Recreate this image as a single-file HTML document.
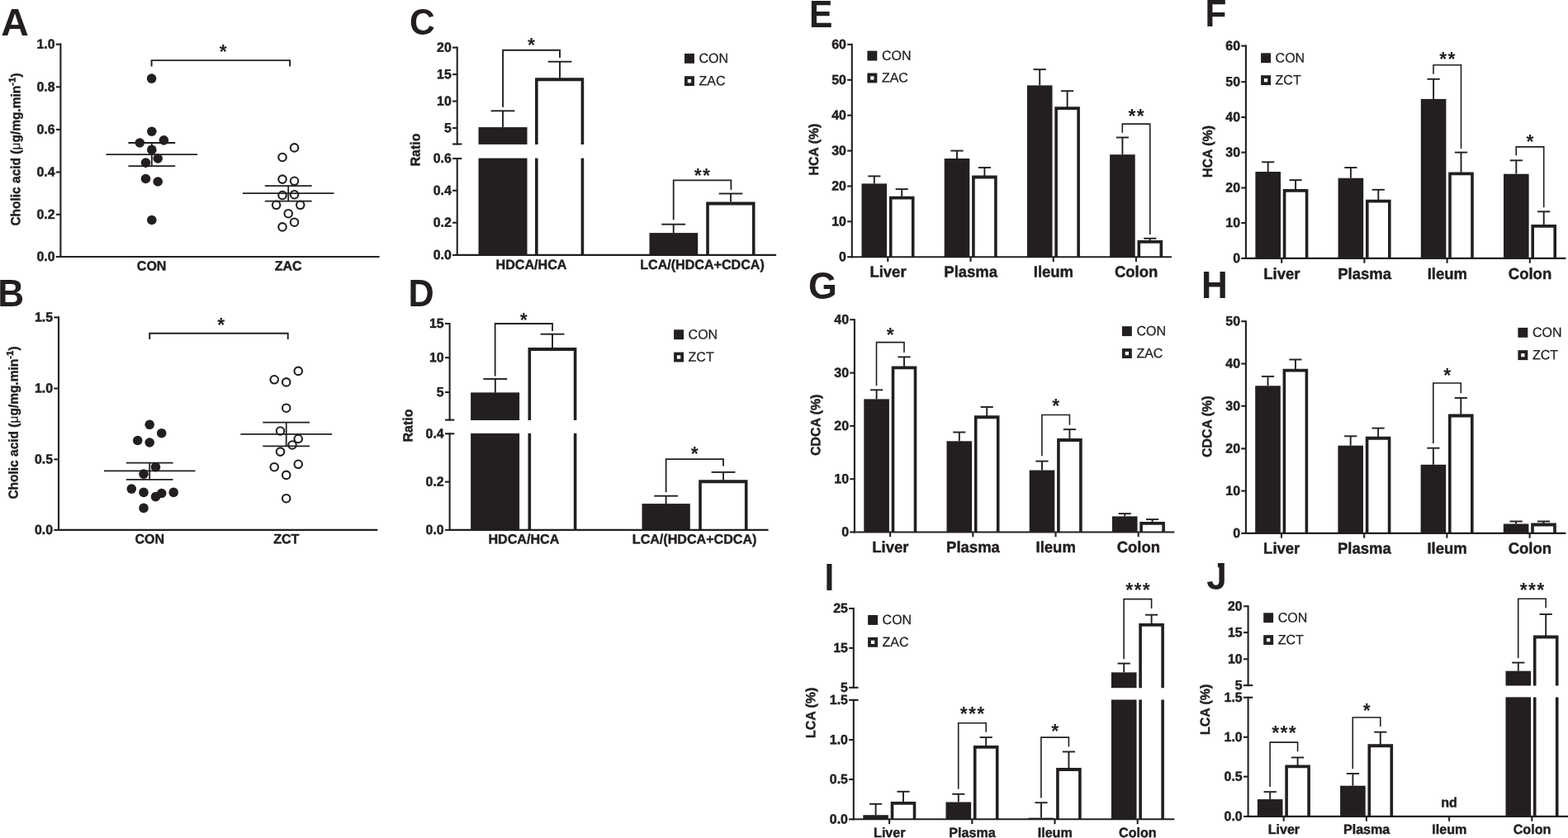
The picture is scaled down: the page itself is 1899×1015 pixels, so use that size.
<!DOCTYPE html>
<html lang="en">
<head>
<meta charset="utf-8">
<title>Bile acid composition: cholic acid, HDCA/HCA and LCA ratios, HCA, CDCA and LCA by tissue</title>
<style>
html,body{margin:0;padding:0;background:#fff;}
body{width:1899px;height:1015px;overflow:hidden;}
svg{display:block;}
svg text{font-family:'Liberation Sans', sans-serif;fill:#231f20;stroke:none;}
svg text.b{font-weight:bold;stroke:#231f20;stroke-width:0.45px;stroke-linejoin:round;}
svg text.s{font-weight:bold;}
svg text.L{font-weight:bold;}
svg text.r{stroke:#231f20;stroke-width:0.25px;}
svg text.b tspan.n{font-weight:normal;stroke-width:0.2px;}
</style>
</head>
<body>
<svg width="1899" height="1015" viewBox="0 0 1899 1015" stroke="#231f20" fill="#231f20" font-family='Liberation Sans, sans-serif'>
<rect x="0" y="0" width="1899" height="1015" fill="#fff" stroke="none"/>
<g id="panelA">
<text transform="translate(1.24 42.5) scale(1.0569 1.0538)" font-size="44" class="L">A</text>
<line x1="73.4" y1="52.55" x2="73.4" y2="312.05" stroke-width="2.1"/>
<line x1="67.75" y1="53.7" x2="73.4" y2="53.7" stroke-width="2.1"/>
<text transform="translate(66.5 58.8) rotate(0.03) scale(1 1.02)" font-size="15.9" class="b" text-anchor="end">1.0</text>
<line x1="67.75" y1="105.3" x2="73.4" y2="105.3" stroke-width="2.1"/>
<text transform="translate(66.5 110.4) rotate(0.03) scale(1 1.02)" font-size="15.9" class="b" text-anchor="end">0.8</text>
<line x1="67.75" y1="156.9" x2="73.4" y2="156.9" stroke-width="2.1"/>
<text transform="translate(66.5 162) rotate(0.03) scale(1 1.02)" font-size="15.9" class="b" text-anchor="end">0.6</text>
<line x1="67.75" y1="208.5" x2="73.4" y2="208.5" stroke-width="2.1"/>
<text transform="translate(66.5 213.6) rotate(0.03) scale(1 1.02)" font-size="15.9" class="b" text-anchor="end">0.4</text>
<line x1="67.75" y1="259.8" x2="73.4" y2="259.8" stroke-width="2.1"/>
<text transform="translate(66.5 264.9) rotate(0.03) scale(1 1.02)" font-size="15.9" class="b" text-anchor="end">0.2</text>
<line x1="67.75" y1="311" x2="73.4" y2="311" stroke-width="2.1"/>
<text transform="translate(66.5 316.1) rotate(0.03) scale(1 1.02)" font-size="15.9" class="b" text-anchor="end">0.0</text>
<line x1="72.35" y1="311" x2="459.6" y2="311" stroke-width="2.1"/>
<text transform="translate(183.6 327.6) rotate(0.03) scale(1 1.02)" font-size="16" class="b" text-anchor="middle">CON</text>
<text transform="translate(349.1 327.6) rotate(0.03) scale(1 1.02)" font-size="16" class="b" text-anchor="middle">ZAC</text>
<text transform="translate(24.36 181) rotate(-89.97) scale(1 1.02)" font-size="15.5" class="b" text-anchor="middle">Cholic acid (<tspan class="n">μ</tspan>g/mg.min<tspan font-size="11.5" dy="-5.5">-1</tspan><tspan dy="5.5">)</tspan></text>
<circle cx="183.6" cy="95.1" r="5.8" fill="#231f20" stroke="none"/>
<circle cx="183.8" cy="159.2" r="5.8" fill="#231f20" stroke="none"/>
<circle cx="169.3" cy="173" r="5.8" fill="#231f20" stroke="none"/>
<circle cx="198.4" cy="169.9" r="5.8" fill="#231f20" stroke="none"/>
<circle cx="183.8" cy="181.4" r="5.8" fill="#231f20" stroke="none"/>
<circle cx="191.2" cy="192" r="5.8" fill="#231f20" stroke="none"/>
<circle cx="176.5" cy="197.1" r="5.8" fill="#231f20" stroke="none"/>
<circle cx="176.5" cy="216.5" r="5.8" fill="#231f20" stroke="none"/>
<circle cx="191.2" cy="220" r="5.8" fill="#231f20" stroke="none"/>
<circle cx="183.8" cy="266.5" r="5.8" fill="#231f20" stroke="none"/>
<circle cx="356.5" cy="178.9" r="4.75" fill="#fff" stroke-width="2.1"/>
<circle cx="342" cy="190.5" r="4.75" fill="#fff" stroke-width="2.1"/>
<circle cx="342" cy="217.1" r="4.75" fill="#fff" stroke-width="2.1"/>
<circle cx="356.5" cy="219.3" r="4.75" fill="#fff" stroke-width="2.1"/>
<circle cx="342" cy="236.5" r="4.75" fill="#fff" stroke-width="2.1"/>
<circle cx="356.5" cy="235.7" r="4.75" fill="#fff" stroke-width="2.1"/>
<circle cx="334.6" cy="248.3" r="4.75" fill="#fff" stroke-width="2.1"/>
<circle cx="363.7" cy="248.3" r="4.75" fill="#fff" stroke-width="2.1"/>
<circle cx="349.2" cy="258.7" r="4.75" fill="#fff" stroke-width="2.1"/>
<circle cx="356.5" cy="269.2" r="4.75" fill="#fff" stroke-width="2.1"/>
<circle cx="342" cy="274.9" r="4.75" fill="#fff" stroke-width="2.1"/>
<line x1="128.5" y1="187.1" x2="239.1" y2="187.1" stroke-width="1.8"/>
<line x1="155.4" y1="173" x2="212.2" y2="173" stroke-width="1.8"/>
<line x1="155.4" y1="201.1" x2="212.2" y2="201.1" stroke-width="1.8"/>
<line x1="183.8" y1="173" x2="183.8" y2="201.1" stroke-width="1.8"/>
<line x1="293.9" y1="234.1" x2="404.5" y2="234.1" stroke-width="1.8"/>
<line x1="320.8" y1="225.2" x2="377.6" y2="225.2" stroke-width="1.8"/>
<line x1="320.8" y1="243.6" x2="377.6" y2="243.6" stroke-width="1.8"/>
<line x1="349.2" y1="225.2" x2="349.2" y2="243.6" stroke-width="1.8"/>
<polyline fill="none" stroke-width="1.9" points="183.6,80.4 183.6,73.1 351.1,73.1 351.1,80.4"/>
<text transform="translate(270.85 71.21) scale(1 1.02)" font-size="23" letter-spacing="1.3" class="s" text-anchor="middle">*</text>
</g>
<g id="panelB">
<text transform="translate(-2.65 370.8) scale(1.0024 1.0439)" font-size="44" class="L">B</text>
<line x1="71" y1="383.25" x2="71" y2="642.95" stroke-width="2.1"/>
<line x1="65.35" y1="384.4" x2="71" y2="384.4" stroke-width="2.1"/>
<text transform="translate(64.1 389.5) rotate(0.03) scale(1 1.02)" font-size="15.9" class="b" text-anchor="end">1.5</text>
<line x1="65.35" y1="470.5" x2="71" y2="470.5" stroke-width="2.1"/>
<text transform="translate(64.1 475.6) rotate(0.03) scale(1 1.02)" font-size="15.9" class="b" text-anchor="end">1.0</text>
<line x1="65.35" y1="556.4" x2="71" y2="556.4" stroke-width="2.1"/>
<text transform="translate(64.1 561.5) rotate(0.03) scale(1 1.02)" font-size="15.9" class="b" text-anchor="end">0.5</text>
<line x1="65.35" y1="641.9" x2="71" y2="641.9" stroke-width="2.1"/>
<text transform="translate(64.1 647) rotate(0.03) scale(1 1.02)" font-size="15.9" class="b" text-anchor="end">0.0</text>
<line x1="69.95" y1="641.9" x2="457.3" y2="641.9" stroke-width="2.1"/>
<text transform="translate(181.2 658.3) rotate(0.03) scale(1 1.02)" font-size="16" class="b" text-anchor="middle">CON</text>
<text transform="translate(346.7 658.3) rotate(0.03) scale(1 1.02)" font-size="16" class="b" text-anchor="middle">ZCT</text>
<text transform="translate(21.66 512) rotate(-89.97) scale(1 1.02)" font-size="15.5" class="b" text-anchor="middle">Cholic acid (<tspan class="n">μ</tspan>g/mg.min<tspan font-size="11.5" dy="-5.5">-1</tspan><tspan dy="5.5">)</tspan></text>
<circle cx="181.2" cy="514.3" r="5.8" fill="#231f20" stroke="none"/>
<circle cx="195.7" cy="524.7" r="5.8" fill="#231f20" stroke="none"/>
<circle cx="166.7" cy="533.5" r="5.8" fill="#231f20" stroke="none"/>
<circle cx="181.2" cy="536" r="5.8" fill="#231f20" stroke="none"/>
<circle cx="188.5" cy="565.7" r="5.8" fill="#231f20" stroke="none"/>
<circle cx="174" cy="574.1" r="5.8" fill="#231f20" stroke="none"/>
<circle cx="159.3" cy="592.1" r="5.8" fill="#231f20" stroke="none"/>
<circle cx="174" cy="596.4" r="5.8" fill="#231f20" stroke="none"/>
<circle cx="195.7" cy="597.5" r="5.8" fill="#231f20" stroke="none"/>
<circle cx="210.2" cy="596.4" r="5.8" fill="#231f20" stroke="none"/>
<circle cx="188.5" cy="601.6" r="5.8" fill="#231f20" stroke="none"/>
<circle cx="174" cy="615.4" r="5.8" fill="#231f20" stroke="none"/>
<circle cx="361.2" cy="449.4" r="4.75" fill="#fff" stroke-width="2.1"/>
<circle cx="332.2" cy="459.8" r="4.75" fill="#fff" stroke-width="2.1"/>
<circle cx="346.7" cy="462.9" r="4.75" fill="#fff" stroke-width="2.1"/>
<circle cx="346.7" cy="494.2" r="4.75" fill="#fff" stroke-width="2.1"/>
<circle cx="339.5" cy="522" r="4.75" fill="#fff" stroke-width="2.1"/>
<circle cx="361.2" cy="531.5" r="4.75" fill="#fff" stroke-width="2.1"/>
<circle cx="354" cy="539" r="4.75" fill="#fff" stroke-width="2.1"/>
<circle cx="339.5" cy="547.1" r="4.75" fill="#fff" stroke-width="2.1"/>
<circle cx="361.2" cy="562.3" r="4.75" fill="#fff" stroke-width="2.1"/>
<circle cx="332.2" cy="565.7" r="4.75" fill="#fff" stroke-width="2.1"/>
<circle cx="346.7" cy="575.4" r="4.75" fill="#fff" stroke-width="2.1"/>
<circle cx="346.7" cy="603.7" r="4.75" fill="#fff" stroke-width="2.1"/>
<line x1="125.9" y1="570.4" x2="236.5" y2="570.4" stroke-width="1.8"/>
<line x1="152.8" y1="560.6" x2="209.6" y2="560.6" stroke-width="1.8"/>
<line x1="152.8" y1="580.8" x2="209.6" y2="580.8" stroke-width="1.8"/>
<line x1="181.2" y1="560.6" x2="181.2" y2="580.8" stroke-width="1.8"/>
<line x1="291.4" y1="525.9" x2="402" y2="525.9" stroke-width="1.8"/>
<line x1="318.3" y1="511.6" x2="375.1" y2="511.6" stroke-width="1.8"/>
<line x1="318.3" y1="540.4" x2="375.1" y2="540.4" stroke-width="1.8"/>
<line x1="346.7" y1="511.6" x2="346.7" y2="540.4" stroke-width="1.8"/>
<polyline fill="none" stroke-width="1.9" points="181.2,410.9 181.2,403.7 348.7,403.7 348.7,410.9"/>
<text transform="translate(268.35 402.01) scale(1 1.02)" font-size="23" letter-spacing="1.3" class="s" text-anchor="middle">*</text>
</g>
<g id="panelC">
<text transform="translate(495.96 41.76) scale(0.9664 1.0208)" font-size="44" class="L">C</text>
<line x1="553.7" y1="56.55" x2="553.7" y2="175.55" stroke-width="2.1"/>
<line x1="553.7" y1="190.95" x2="553.7" y2="309.95" stroke-width="2.1"/>
<line x1="548.05" y1="57.6" x2="553.7" y2="57.6" stroke-width="2.1"/>
<text transform="translate(546.8 62.7) rotate(0.03) scale(1 1.02)" font-size="15.9" class="b" text-anchor="end">20</text>
<line x1="548.05" y1="90.1" x2="553.7" y2="90.1" stroke-width="2.1"/>
<text transform="translate(546.8 95.2) rotate(0.03) scale(1 1.02)" font-size="15.9" class="b" text-anchor="end">15</text>
<line x1="548.05" y1="122.6" x2="553.7" y2="122.6" stroke-width="2.1"/>
<text transform="translate(546.8 127.7) rotate(0.03) scale(1 1.02)" font-size="15.9" class="b" text-anchor="end">10</text>
<line x1="548.05" y1="155.1" x2="553.7" y2="155.1" stroke-width="2.1"/>
<text transform="translate(546.8 160.2) rotate(0.03) scale(1 1.02)" font-size="15.9" class="b" text-anchor="end">5</text>
<line x1="548.05" y1="174.5" x2="559.4" y2="174.5" stroke-width="2.1"/>
<line x1="548.05" y1="192" x2="559.4" y2="192" stroke-width="2.1"/>
<text transform="translate(546.8 197.1) rotate(0.03) scale(1 1.02)" font-size="15.9" class="b" text-anchor="end">0.6</text>
<line x1="548.05" y1="230.8" x2="553.7" y2="230.8" stroke-width="2.1"/>
<text transform="translate(546.8 235.9) rotate(0.03) scale(1 1.02)" font-size="15.9" class="b" text-anchor="end">0.4</text>
<line x1="548.05" y1="269.7" x2="553.7" y2="269.7" stroke-width="2.1"/>
<text transform="translate(546.8 274.8) rotate(0.03) scale(1 1.02)" font-size="15.9" class="b" text-anchor="end">0.2</text>
<line x1="548.05" y1="308.9" x2="553.7" y2="308.9" stroke-width="2.1"/>
<text transform="translate(546.8 314) rotate(0.03) scale(1 1.02)" font-size="15.9" class="b" text-anchor="end">0.0</text>
<rect x="579.5" y="154.1" width="59" height="20.8" fill="#231f20" stroke="none"/>
<rect x="579.5" y="191.6" width="59" height="117.3" fill="#231f20" stroke="none"/>
<line x1="609" y1="134.3" x2="609" y2="154.1" stroke-width="1.9"/>
<line x1="594.6" y1="134.3" x2="623.4" y2="134.3" stroke-width="1.9"/>
<path stroke="none" d="M648 174.9V94.3H707.2V174.9H703.6V98.15H651.6V174.9Z"/>
<line x1="649.8" y1="191.6" x2="649.8" y2="308.9" stroke-width="3.6"/>
<line x1="705.4" y1="191.6" x2="705.4" y2="308.9" stroke-width="3.6"/>
<line x1="678" y1="74.7" x2="678" y2="94.8" stroke-width="1.9"/>
<line x1="663.6" y1="74.7" x2="692.4" y2="74.7" stroke-width="1.9"/>
<rect x="786.5" y="282.1" width="58.7" height="26.8" fill="#231f20" stroke="none"/>
<line x1="815.7" y1="271.7" x2="815.7" y2="282.1" stroke-width="1.9"/>
<line x1="801.3" y1="271.7" x2="830.1" y2="271.7" stroke-width="1.9"/>
<path stroke="none" d="M855.2 308.9V244.6H914.5V308.9H910.9V248.45H858.8V308.9Z"/>
<line x1="885" y1="234.5" x2="885" y2="244.6" stroke-width="1.9"/>
<line x1="870.6" y1="234.5" x2="899.4" y2="234.5" stroke-width="1.9"/>
<line x1="552.65" y1="308.9" x2="940.1" y2="308.9" stroke-width="2.1"/>
<polyline fill="none" stroke-width="1.9" points="609.1,129.8 609.1,60.8 678,60.8 678,70"/>
<text transform="translate(644.15 62.81) scale(1 1.02)" font-size="23" letter-spacing="1.3" class="s" text-anchor="middle">*</text>
<polyline fill="none" stroke-width="1.8" points="815.7,266.3 815.7,218.4 885.4,218.4 885.4,229.9"/>
<text transform="translate(851.05 220.81) scale(1 1.02)" font-size="23" letter-spacing="1.3" class="s" text-anchor="middle">**</text>
<rect x="829" y="64.9" width="11.9" height="11.9" fill="#231f20" stroke="none"/>
<rect x="830.9" y="94.1" width="8.1" height="8.1" fill="#fff" stroke-width="3.8"/>
<text transform="translate(846.5 76) rotate(0.03) scale(1 1.02)" font-size="16" text-anchor="start" class="r">CON</text>
<text transform="translate(846.5 103.3) rotate(0.03) scale(1 1.02)" font-size="16" text-anchor="start" class="r">ZAC</text>
<text transform="translate(643.5 326) rotate(0.03) scale(1 1.02)" font-size="16.1" class="b" text-anchor="middle">HDCA/HCA</text>
<text transform="translate(850.5 326) rotate(0.03) scale(1 1.02)" font-size="16.1" class="b" text-anchor="middle">LCA/(HDCA+CDCA)</text>
<text transform="translate(508.6 181.5) rotate(-89.97) scale(1 1.02)" font-size="15.9" class="b" text-anchor="middle">Ratio</text>
</g>
<g id="panelD">
<text transform="translate(494.51 370.9) scale(0.9820 1.0439)" font-size="44" class="L">D</text>
<line x1="544.6" y1="390.95" x2="544.6" y2="509.65" stroke-width="2.1"/>
<line x1="544.6" y1="524.25" x2="544.6" y2="642.95" stroke-width="2.1"/>
<line x1="538.95" y1="392" x2="544.6" y2="392" stroke-width="2.1"/>
<text transform="translate(537.7 397.1) rotate(0.03) scale(1 1.02)" font-size="15.9" class="b" text-anchor="end">15</text>
<line x1="538.95" y1="433.2" x2="544.6" y2="433.2" stroke-width="2.1"/>
<text transform="translate(537.7 438.3) rotate(0.03) scale(1 1.02)" font-size="15.9" class="b" text-anchor="end">10</text>
<line x1="538.95" y1="475.1" x2="544.6" y2="475.1" stroke-width="2.1"/>
<text transform="translate(537.7 480.2) rotate(0.03) scale(1 1.02)" font-size="15.9" class="b" text-anchor="end">5</text>
<line x1="538.95" y1="508.6" x2="550.3" y2="508.6" stroke-width="2.1"/>
<line x1="538.95" y1="525.3" x2="550.3" y2="525.3" stroke-width="2.1"/>
<text transform="translate(537.7 530.4) rotate(0.03) scale(1 1.02)" font-size="15.9" class="b" text-anchor="end">0.4</text>
<line x1="538.95" y1="583.6" x2="544.6" y2="583.6" stroke-width="2.1"/>
<text transform="translate(537.7 588.7) rotate(0.03) scale(1 1.02)" font-size="15.9" class="b" text-anchor="end">0.2</text>
<line x1="538.95" y1="641.9" x2="544.6" y2="641.9" stroke-width="2.1"/>
<text transform="translate(537.7 647) rotate(0.03) scale(1 1.02)" font-size="15.9" class="b" text-anchor="end">0.0</text>
<rect x="570.1" y="475.4" width="59" height="33.6" fill="#231f20" stroke="none"/>
<rect x="570.1" y="524.9" width="59" height="117" fill="#231f20" stroke="none"/>
<line x1="599.8" y1="459" x2="599.8" y2="475.7" stroke-width="1.9"/>
<line x1="585.4" y1="459" x2="614.2" y2="459" stroke-width="1.9"/>
<path stroke="none" d="M639.5 509V421.1H698.4V509H694.8V424.95H643.1V509Z"/>
<line x1="641.3" y1="524.9" x2="641.3" y2="641.9" stroke-width="3.6"/>
<line x1="696.6" y1="524.9" x2="696.6" y2="641.9" stroke-width="3.6"/>
<line x1="669" y1="404.7" x2="669" y2="421.1" stroke-width="1.9"/>
<line x1="654.6" y1="404.7" x2="683.4" y2="404.7" stroke-width="1.9"/>
<rect x="777.5" y="610.1" width="58.3" height="31.8" fill="#231f20" stroke="none"/>
<line x1="806.6" y1="600.7" x2="806.6" y2="610.1" stroke-width="1.9"/>
<line x1="792.2" y1="600.7" x2="821" y2="600.7" stroke-width="1.9"/>
<path stroke="none" d="M846.2 641.9V581.3H905.5V641.9H901.9V585.15H849.8V641.9Z"/>
<line x1="876" y1="571.9" x2="876" y2="581.3" stroke-width="1.9"/>
<line x1="861.6" y1="571.9" x2="890.4" y2="571.9" stroke-width="1.9"/>
<line x1="543.55" y1="641.9" x2="930.6" y2="641.9" stroke-width="2.1"/>
<polyline fill="none" stroke-width="1.8" points="599.6,455.6 599.6,392 669,392 669,401"/>
<text transform="translate(634.85 396.41) scale(1 1.02)" font-size="23" letter-spacing="1.3" class="s" text-anchor="middle">*</text>
<polyline fill="none" stroke-width="1.8" points="806.6,596.3 806.6,556.1 876,556.1 876,564.5"/>
<text transform="translate(841.75 558.21) scale(1 1.02)" font-size="23" letter-spacing="1.3" class="s" text-anchor="middle">*</text>
<rect x="816.1" y="399.3" width="11.9" height="11.9" fill="#231f20" stroke="none"/>
<rect x="818" y="428.5" width="8.1" height="8.1" fill="#fff" stroke-width="3.8"/>
<text transform="translate(833.6 410.4) rotate(0.03) scale(1 1.02)" font-size="16" text-anchor="start" class="r">CON</text>
<text transform="translate(833.6 437.7) rotate(0.03) scale(1 1.02)" font-size="16" text-anchor="start" class="r">ZCT</text>
<text transform="translate(634.4 658.6) rotate(0.03) scale(1 1.02)" font-size="16.1" class="b" text-anchor="middle">HDCA/HCA</text>
<text transform="translate(841.1 658.6) rotate(0.03) scale(1 1.02)" font-size="16.1" class="b" text-anchor="middle">LCA/(HDCA+CDCA)</text>
<text transform="translate(499.6 515.5) rotate(-89.97) scale(1 1.02)" font-size="15.9" class="b" text-anchor="middle">Ratio</text>
</g>
<g id="panelE">
<text transform="translate(979.95 33.2) scale(0.9682 1.0373)" font-size="44" class="L">E</text>
<line x1="1031.8" y1="52.85" x2="1031.8" y2="312.25" stroke-width="2.1"/>
<line x1="1026.15" y1="53.9" x2="1031.8" y2="53.9" stroke-width="2.1"/>
<text transform="translate(1024.9 59) rotate(0.03) scale(1 1.02)" font-size="15.9" class="b" text-anchor="end">60</text>
<line x1="1026.15" y1="96.8" x2="1031.8" y2="96.8" stroke-width="2.1"/>
<text transform="translate(1024.9 101.9) rotate(0.03) scale(1 1.02)" font-size="15.9" class="b" text-anchor="end">50</text>
<line x1="1026.15" y1="139.7" x2="1031.8" y2="139.7" stroke-width="2.1"/>
<text transform="translate(1024.9 144.8) rotate(0.03) scale(1 1.02)" font-size="15.9" class="b" text-anchor="end">40</text>
<line x1="1026.15" y1="182.6" x2="1031.8" y2="182.6" stroke-width="2.1"/>
<text transform="translate(1024.9 187.7) rotate(0.03) scale(1 1.02)" font-size="15.9" class="b" text-anchor="end">30</text>
<line x1="1026.15" y1="225.5" x2="1031.8" y2="225.5" stroke-width="2.1"/>
<text transform="translate(1024.9 230.6) rotate(0.03) scale(1 1.02)" font-size="15.9" class="b" text-anchor="end">20</text>
<line x1="1026.15" y1="268.3" x2="1031.8" y2="268.3" stroke-width="2.1"/>
<text transform="translate(1024.9 273.4) rotate(0.03) scale(1 1.02)" font-size="15.9" class="b" text-anchor="end">10</text>
<line x1="1026.15" y1="311.2" x2="1031.8" y2="311.2" stroke-width="2.1"/>
<text transform="translate(1024.9 316.3) rotate(0.03) scale(1 1.02)" font-size="15.9" class="b" text-anchor="end">0</text>
<rect x="1043.5" y="222.4" width="30.6" height="88.8" fill="#231f20" stroke="none"/>
<line x1="1058.8" y1="213.4" x2="1058.8" y2="222.4" stroke-width="1.9"/>
<line x1="1051.2" y1="213.4" x2="1066.4" y2="213.4" stroke-width="1.9"/>
<path stroke="none" d="M1076.9 311.2V237.7H1107.5V311.2H1103.9V241.55H1080.5V311.2Z"/>
<line x1="1092.2" y1="229.1" x2="1092.2" y2="238.7" stroke-width="1.9"/>
<line x1="1084.6" y1="229.1" x2="1099.8" y2="229.1" stroke-width="1.9"/>
<rect x="1143.7" y="192" width="30.6" height="119.2" fill="#231f20" stroke="none"/>
<line x1="1159" y1="182.6" x2="1159" y2="192" stroke-width="1.9"/>
<line x1="1151.4" y1="182.6" x2="1166.6" y2="182.6" stroke-width="1.9"/>
<path stroke="none" d="M1177.1 311.2V212.6H1207.7V311.2H1204.1V216.45H1180.7V311.2Z"/>
<line x1="1192.4" y1="203" x2="1192.4" y2="213.6" stroke-width="1.9"/>
<line x1="1184.8" y1="203" x2="1200" y2="203" stroke-width="1.9"/>
<rect x="1243.9" y="103.4" width="30.6" height="207.8" fill="#231f20" stroke="none"/>
<line x1="1259.2" y1="84.1" x2="1259.2" y2="103.4" stroke-width="1.9"/>
<line x1="1251.6" y1="84.1" x2="1266.8" y2="84.1" stroke-width="1.9"/>
<path stroke="none" d="M1277.3 311.2V129.2H1307.9V311.2H1304.3V133.05H1280.9V311.2Z"/>
<line x1="1292.6" y1="110.2" x2="1292.6" y2="130.2" stroke-width="1.9"/>
<line x1="1285" y1="110.2" x2="1300.2" y2="110.2" stroke-width="1.9"/>
<rect x="1344.1" y="187.2" width="30.6" height="124" fill="#231f20" stroke="none"/>
<line x1="1359.4" y1="166.5" x2="1359.4" y2="187.2" stroke-width="1.9"/>
<line x1="1351.8" y1="166.5" x2="1367" y2="166.5" stroke-width="1.9"/>
<path stroke="none" d="M1377.5 311.2V291H1408.1V311.2H1404.5V294.85H1381.1V311.2Z"/>
<line x1="1392.8" y1="288.8" x2="1392.8" y2="292" stroke-width="1.9"/>
<line x1="1385.2" y1="288.8" x2="1400.4" y2="288.8" stroke-width="1.9"/>
<line x1="1030.75" y1="311.2" x2="1419" y2="311.2" stroke-width="2.1"/>
<line x1="1075.3" y1="311.2" x2="1075.3" y2="317" stroke-width="2.1"/>
<line x1="1175.5" y1="311.2" x2="1175.5" y2="317" stroke-width="2.1"/>
<line x1="1275.7" y1="311.2" x2="1275.7" y2="317" stroke-width="2.1"/>
<line x1="1375.9" y1="311.2" x2="1375.9" y2="317" stroke-width="2.1"/>
<polyline fill="none" stroke-width="1.6" points="1359.3,160.8 1359.3,150.1 1392.8,150.1 1392.8,284.1"/>
<text transform="translate(1376.75 149.01) scale(1 1.02)" font-size="23" letter-spacing="1.3" class="s" text-anchor="middle">**</text>
<rect x="1050.4" y="61.6" width="11.9" height="11.9" fill="#231f20" stroke="none"/>
<rect x="1052.3" y="90.4" width="8.1" height="8.1" fill="#fff" stroke-width="3.8"/>
<text transform="translate(1067.9 72.7) rotate(0.03) scale(1 1.02)" font-size="16" text-anchor="start" class="r">CON</text>
<text transform="translate(1067.9 99.6) rotate(0.03) scale(1 1.02)" font-size="16" text-anchor="start" class="r">ZAC</text>
<text transform="translate(1075.5 335.6) rotate(0.03) scale(1 1.02)" font-size="18.5" class="b" text-anchor="middle">Liver</text>
<text transform="translate(1175.7 335.6) rotate(0.03) scale(1 1.02)" font-size="18.5" class="b" text-anchor="middle">Plasma</text>
<text transform="translate(1275.9 335.6) rotate(0.03) scale(1 1.02)" font-size="18.5" class="b" text-anchor="middle">Ileum</text>
<text transform="translate(1376.1 335.6) rotate(0.03) scale(1 1.02)" font-size="18.5" class="b" text-anchor="middle">Colon</text>
<text transform="translate(991.1 181.1) rotate(-89.97) scale(1 1.02)" font-size="15.9" class="b" text-anchor="middle">HCA (%)</text>
</g>
<g id="panelF">
<text transform="translate(1459.56 31.5) scale(0.9632 1.0406)" font-size="44" class="L">F</text>
<line x1="1508.9" y1="54.55" x2="1508.9" y2="313.95" stroke-width="2.1"/>
<line x1="1503.25" y1="55.6" x2="1508.9" y2="55.6" stroke-width="2.1"/>
<text transform="translate(1502 60.7) rotate(0.03) scale(1 1.02)" font-size="15.9" class="b" text-anchor="end">60</text>
<line x1="1503.25" y1="99.2" x2="1508.9" y2="99.2" stroke-width="2.1"/>
<text transform="translate(1502 104.3) rotate(0.03) scale(1 1.02)" font-size="15.9" class="b" text-anchor="end">50</text>
<line x1="1503.25" y1="142" x2="1508.9" y2="142" stroke-width="2.1"/>
<text transform="translate(1502 147.1) rotate(0.03) scale(1 1.02)" font-size="15.9" class="b" text-anchor="end">40</text>
<line x1="1503.25" y1="184.6" x2="1508.9" y2="184.6" stroke-width="2.1"/>
<text transform="translate(1502 189.7) rotate(0.03) scale(1 1.02)" font-size="15.9" class="b" text-anchor="end">30</text>
<line x1="1503.25" y1="227.5" x2="1508.9" y2="227.5" stroke-width="2.1"/>
<text transform="translate(1502 232.6) rotate(0.03) scale(1 1.02)" font-size="15.9" class="b" text-anchor="end">20</text>
<line x1="1503.25" y1="270" x2="1508.9" y2="270" stroke-width="2.1"/>
<text transform="translate(1502 275.1) rotate(0.03) scale(1 1.02)" font-size="15.9" class="b" text-anchor="end">10</text>
<line x1="1503.25" y1="312.9" x2="1508.9" y2="312.9" stroke-width="2.1"/>
<text transform="translate(1502 318) rotate(0.03) scale(1 1.02)" font-size="15.9" class="b" text-anchor="end">0</text>
<rect x="1520.4" y="208" width="30.6" height="104.9" fill="#231f20" stroke="none"/>
<line x1="1535.7" y1="196.3" x2="1535.7" y2="208" stroke-width="1.9"/>
<line x1="1528.1" y1="196.3" x2="1543.3" y2="196.3" stroke-width="1.9"/>
<path stroke="none" d="M1553.8 312.9V229H1584.4V312.9H1580.8V232.85H1557.4V312.9Z"/>
<line x1="1569.1" y1="218.1" x2="1569.1" y2="230" stroke-width="1.9"/>
<line x1="1561.5" y1="218.1" x2="1576.7" y2="218.1" stroke-width="1.9"/>
<rect x="1620.6" y="215.7" width="30.6" height="97.2" fill="#231f20" stroke="none"/>
<line x1="1635.9" y1="203" x2="1635.9" y2="215.7" stroke-width="1.9"/>
<line x1="1628.3" y1="203" x2="1643.5" y2="203" stroke-width="1.9"/>
<path stroke="none" d="M1654 312.9V241.7H1684.6V312.9H1681V245.55H1657.6V312.9Z"/>
<line x1="1669.3" y1="229.8" x2="1669.3" y2="242.7" stroke-width="1.9"/>
<line x1="1661.7" y1="229.8" x2="1676.9" y2="229.8" stroke-width="1.9"/>
<rect x="1720.8" y="119.9" width="30.6" height="193" fill="#231f20" stroke="none"/>
<line x1="1736.1" y1="95.8" x2="1736.1" y2="119.9" stroke-width="1.9"/>
<line x1="1728.5" y1="95.8" x2="1743.7" y2="95.8" stroke-width="1.9"/>
<path stroke="none" d="M1754.2 312.9V208.5H1784.8V312.9H1781.2V212.35H1757.8V312.9Z"/>
<line x1="1769.5" y1="184.6" x2="1769.5" y2="209.5" stroke-width="1.9"/>
<line x1="1761.9" y1="184.6" x2="1777.1" y2="184.6" stroke-width="1.9"/>
<rect x="1821" y="210.7" width="30.6" height="102.2" fill="#231f20" stroke="none"/>
<line x1="1836.3" y1="194.3" x2="1836.3" y2="210.7" stroke-width="1.9"/>
<line x1="1828.7" y1="194.3" x2="1843.9" y2="194.3" stroke-width="1.9"/>
<path stroke="none" d="M1854.4 312.9V271.9H1885V312.9H1881.4V275.75H1858V312.9Z"/>
<line x1="1869.7" y1="256.3" x2="1869.7" y2="272.9" stroke-width="1.9"/>
<line x1="1862.1" y1="256.3" x2="1877.3" y2="256.3" stroke-width="1.9"/>
<line x1="1507.85" y1="312.9" x2="1896.4" y2="312.9" stroke-width="2.1"/>
<line x1="1552.2" y1="312.9" x2="1552.2" y2="318.7" stroke-width="2.1"/>
<line x1="1652.4" y1="312.9" x2="1652.4" y2="318.7" stroke-width="2.1"/>
<line x1="1752.6" y1="312.9" x2="1752.6" y2="318.7" stroke-width="2.1"/>
<line x1="1852.8" y1="312.9" x2="1852.8" y2="318.7" stroke-width="2.1"/>
<polyline fill="none" stroke-width="1.6" points="1736,89.8 1736,78.7 1769.5,78.7 1769.5,179.9"/>
<text transform="translate(1753.45 80.01) scale(1 1.02)" font-size="23" letter-spacing="1.3" class="s" text-anchor="middle">**</text>
<polyline fill="none" stroke-width="1.6" points="1836.2,188.3 1836.2,177.9 1869.7,177.9 1869.7,251.3"/>
<text transform="translate(1853.65 179.71) scale(1 1.02)" font-size="23" letter-spacing="1.3" class="s" text-anchor="middle">*</text>
<rect x="1527.1" y="64.3" width="11.9" height="11.9" fill="#231f20" stroke="none"/>
<rect x="1529" y="93.1" width="8.1" height="8.1" fill="#fff" stroke-width="3.8"/>
<text transform="translate(1544.6 75.4) rotate(0.03) scale(1 1.02)" font-size="16" text-anchor="start" class="r">CON</text>
<text transform="translate(1544.6 102.3) rotate(0.03) scale(1 1.02)" font-size="16" text-anchor="start" class="r">ZCT</text>
<text transform="translate(1552.4 338) rotate(0.03) scale(1 1.02)" font-size="18.5" class="b" text-anchor="middle">Liver</text>
<text transform="translate(1652.6 338) rotate(0.03) scale(1 1.02)" font-size="18.5" class="b" text-anchor="middle">Plasma</text>
<text transform="translate(1752.8 338) rotate(0.03) scale(1 1.02)" font-size="18.5" class="b" text-anchor="middle">Ileum</text>
<text transform="translate(1853 338) rotate(0.03) scale(1 1.02)" font-size="18.5" class="b" text-anchor="middle">Colon</text>
<text transform="translate(1468.1 183.5) rotate(-89.97) scale(1 1.02)" font-size="15.9" class="b" text-anchor="middle">HCA (%)</text>
</g>
<g id="panelG">
<text transform="translate(979.07 361.65) scale(1.0171 1.0336)" font-size="44" class="L">G</text>
<line x1="1034.9" y1="386.15" x2="1034.9" y2="645.55" stroke-width="2.1"/>
<line x1="1029.25" y1="387.2" x2="1034.9" y2="387.2" stroke-width="2.1"/>
<text transform="translate(1028 392.3) rotate(0.03) scale(1 1.02)" font-size="15.9" class="b" text-anchor="end">40</text>
<line x1="1029.25" y1="451.6" x2="1034.9" y2="451.6" stroke-width="2.1"/>
<text transform="translate(1028 456.7) rotate(0.03) scale(1 1.02)" font-size="15.9" class="b" text-anchor="end">30</text>
<line x1="1029.25" y1="515.9" x2="1034.9" y2="515.9" stroke-width="2.1"/>
<text transform="translate(1028 521) rotate(0.03) scale(1 1.02)" font-size="15.9" class="b" text-anchor="end">20</text>
<line x1="1029.25" y1="580.2" x2="1034.9" y2="580.2" stroke-width="2.1"/>
<text transform="translate(1028 585.3) rotate(0.03) scale(1 1.02)" font-size="15.9" class="b" text-anchor="end">10</text>
<line x1="1029.25" y1="644.5" x2="1034.9" y2="644.5" stroke-width="2.1"/>
<text transform="translate(1028 649.6) rotate(0.03) scale(1 1.02)" font-size="15.9" class="b" text-anchor="end">0</text>
<rect x="1046.3" y="483.4" width="30.6" height="161.1" fill="#231f20" stroke="none"/>
<line x1="1061.6" y1="472.3" x2="1061.6" y2="483.4" stroke-width="1.9"/>
<line x1="1054" y1="472.3" x2="1069.2" y2="472.3" stroke-width="1.9"/>
<path stroke="none" d="M1079.7 644.5V443.4H1110.3V644.5H1106.7V447.25H1083.3V644.5Z"/>
<line x1="1095" y1="432.4" x2="1095" y2="444.4" stroke-width="1.9"/>
<line x1="1087.4" y1="432.4" x2="1102.6" y2="432.4" stroke-width="1.9"/>
<rect x="1146.5" y="534.3" width="30.6" height="110.2" fill="#231f20" stroke="none"/>
<line x1="1161.8" y1="523.5" x2="1161.8" y2="534.3" stroke-width="1.9"/>
<line x1="1154.2" y1="523.5" x2="1169.4" y2="523.5" stroke-width="1.9"/>
<path stroke="none" d="M1179.9 644.5V503.3H1210.5V644.5H1206.9V507.15H1183.5V644.5Z"/>
<line x1="1195.2" y1="493" x2="1195.2" y2="504.3" stroke-width="1.9"/>
<line x1="1187.6" y1="493" x2="1202.8" y2="493" stroke-width="1.9"/>
<rect x="1246.7" y="569.5" width="30.6" height="75" fill="#231f20" stroke="none"/>
<line x1="1262" y1="558.6" x2="1262" y2="569.5" stroke-width="1.9"/>
<line x1="1254.4" y1="558.6" x2="1269.6" y2="558.6" stroke-width="1.9"/>
<path stroke="none" d="M1280.1 644.5V531.1H1310.7V644.5H1307.1V534.95H1283.7V644.5Z"/>
<line x1="1295.4" y1="520.1" x2="1295.4" y2="532.1" stroke-width="1.9"/>
<line x1="1287.8" y1="520.1" x2="1303" y2="520.1" stroke-width="1.9"/>
<rect x="1346.9" y="625.4" width="30.6" height="19.1" fill="#231f20" stroke="none"/>
<line x1="1362.2" y1="622.1" x2="1362.2" y2="625.4" stroke-width="1.9"/>
<line x1="1354.6" y1="622.1" x2="1369.8" y2="622.1" stroke-width="1.9"/>
<path stroke="none" d="M1380.3 644.5V632H1410.9V644.5H1407.3V635.85H1383.9V644.5Z"/>
<line x1="1395.6" y1="629.1" x2="1395.6" y2="633" stroke-width="1.9"/>
<line x1="1388" y1="629.1" x2="1403.2" y2="629.1" stroke-width="1.9"/>
<line x1="1033.85" y1="644.5" x2="1422.3" y2="644.5" stroke-width="2.1"/>
<line x1="1078.1" y1="644.5" x2="1078.1" y2="650.3" stroke-width="2.1"/>
<line x1="1178.3" y1="644.5" x2="1178.3" y2="650.3" stroke-width="2.1"/>
<line x1="1278.5" y1="644.5" x2="1278.5" y2="650.3" stroke-width="2.1"/>
<line x1="1378.7" y1="644.5" x2="1378.7" y2="650.3" stroke-width="2.1"/>
<polyline fill="none" stroke-width="1.6" points="1061.5,467.2 1061.5,414.6 1095,414.6 1095,427"/>
<text transform="translate(1078.95 414.41) scale(1 1.02)" font-size="23" letter-spacing="1.3" class="s" text-anchor="middle">*</text>
<polyline fill="none" stroke-width="1.6" points="1261.9,552.3 1261.9,502.5 1295.4,502.5 1295.4,514.8"/>
<text transform="translate(1279.35 499.91) scale(1 1.02)" font-size="23" letter-spacing="1.3" class="s" text-anchor="middle">*</text>
<rect x="1358.9" y="395.2" width="11.9" height="11.9" fill="#231f20" stroke="none"/>
<rect x="1360.8" y="424" width="8.1" height="8.1" fill="#fff" stroke-width="3.8"/>
<text transform="translate(1376.4 406.3) rotate(0.03) scale(1 1.02)" font-size="16" text-anchor="start" class="r">CON</text>
<text transform="translate(1376.4 433.2) rotate(0.03) scale(1 1.02)" font-size="16" text-anchor="start" class="r">ZAC</text>
<text transform="translate(1078.3 668.9) rotate(0.03) scale(1 1.02)" font-size="18.5" class="b" text-anchor="middle">Liver</text>
<text transform="translate(1178.5 668.9) rotate(0.03) scale(1 1.02)" font-size="18.5" class="b" text-anchor="middle">Plasma</text>
<text transform="translate(1278.7 668.9) rotate(0.03) scale(1 1.02)" font-size="18.5" class="b" text-anchor="middle">Ileum</text>
<text transform="translate(1378.9 668.9) rotate(0.03) scale(1 1.02)" font-size="18.5" class="b" text-anchor="middle">Colon</text>
<text transform="translate(993.3 514.8) rotate(-89.97) scale(1 1.02)" font-size="15.9" class="b" text-anchor="middle">CDCA (%)</text>
</g>
<g id="panelH">
<text transform="translate(1455.05 360.9) scale(1.0013 1.0439)" font-size="44" class="L">H</text>
<line x1="1508.9" y1="388.15" x2="1508.9" y2="646.95" stroke-width="2.1"/>
<line x1="1503.25" y1="389.2" x2="1508.9" y2="389.2" stroke-width="2.1"/>
<text transform="translate(1502 394.3) rotate(0.03) scale(1 1.02)" font-size="15.9" class="b" text-anchor="end">50</text>
<line x1="1503.25" y1="440.5" x2="1508.9" y2="440.5" stroke-width="2.1"/>
<text transform="translate(1502 445.6) rotate(0.03) scale(1 1.02)" font-size="15.9" class="b" text-anchor="end">40</text>
<line x1="1503.25" y1="491.8" x2="1508.9" y2="491.8" stroke-width="2.1"/>
<text transform="translate(1502 496.9) rotate(0.03) scale(1 1.02)" font-size="15.9" class="b" text-anchor="end">30</text>
<line x1="1503.25" y1="543.4" x2="1508.9" y2="543.4" stroke-width="2.1"/>
<text transform="translate(1502 548.5) rotate(0.03) scale(1 1.02)" font-size="15.9" class="b" text-anchor="end">20</text>
<line x1="1503.25" y1="594.6" x2="1508.9" y2="594.6" stroke-width="2.1"/>
<text transform="translate(1502 599.7) rotate(0.03) scale(1 1.02)" font-size="15.9" class="b" text-anchor="end">10</text>
<line x1="1503.25" y1="645.9" x2="1508.9" y2="645.9" stroke-width="2.1"/>
<text transform="translate(1502 651) rotate(0.03) scale(1 1.02)" font-size="15.9" class="b" text-anchor="end">0</text>
<rect x="1520.2" y="467.3" width="30.6" height="178.6" fill="#231f20" stroke="none"/>
<line x1="1535.5" y1="455.9" x2="1535.5" y2="467.3" stroke-width="1.9"/>
<line x1="1527.9" y1="455.9" x2="1543.1" y2="455.9" stroke-width="1.9"/>
<path stroke="none" d="M1553.6 645.9V446.7H1584.2V645.9H1580.6V450.55H1557.2V645.9Z"/>
<line x1="1568.9" y1="435.5" x2="1568.9" y2="447.7" stroke-width="1.9"/>
<line x1="1561.3" y1="435.5" x2="1576.5" y2="435.5" stroke-width="1.9"/>
<rect x="1620.4" y="539.7" width="30.6" height="106.2" fill="#231f20" stroke="none"/>
<line x1="1635.7" y1="528.3" x2="1635.7" y2="539.7" stroke-width="1.9"/>
<line x1="1628.1" y1="528.3" x2="1643.3" y2="528.3" stroke-width="1.9"/>
<path stroke="none" d="M1653.8 645.9V528.8H1684.4V645.9H1680.8V532.65H1657.4V645.9Z"/>
<line x1="1669.1" y1="518.6" x2="1669.1" y2="529.8" stroke-width="1.9"/>
<line x1="1661.5" y1="518.6" x2="1676.7" y2="518.6" stroke-width="1.9"/>
<rect x="1720.6" y="562.8" width="30.6" height="83.1" fill="#231f20" stroke="none"/>
<line x1="1735.9" y1="542.7" x2="1735.9" y2="562.8" stroke-width="1.9"/>
<line x1="1728.3" y1="542.7" x2="1743.5" y2="542.7" stroke-width="1.9"/>
<path stroke="none" d="M1754 645.9V501.6H1784.6V645.9H1781V505.45H1757.6V645.9Z"/>
<line x1="1769.3" y1="482" x2="1769.3" y2="502.6" stroke-width="1.9"/>
<line x1="1761.7" y1="482" x2="1776.9" y2="482" stroke-width="1.9"/>
<rect x="1820.8" y="634.5" width="30.6" height="11.4" fill="#231f20" stroke="none"/>
<line x1="1836.1" y1="631.5" x2="1836.1" y2="634.5" stroke-width="1.9"/>
<line x1="1828.5" y1="631.5" x2="1843.7" y2="631.5" stroke-width="1.9"/>
<path stroke="none" d="M1854.2 645.9V633.6H1884.8V645.9H1881.2V637.45H1857.8V645.9Z"/>
<line x1="1869.5" y1="631.5" x2="1869.5" y2="634.6" stroke-width="1.9"/>
<line x1="1861.9" y1="631.5" x2="1877.1" y2="631.5" stroke-width="1.9"/>
<line x1="1507.85" y1="645.9" x2="1896.4" y2="645.9" stroke-width="2.1"/>
<line x1="1552" y1="645.9" x2="1552" y2="651.7" stroke-width="2.1"/>
<line x1="1652.2" y1="645.9" x2="1652.2" y2="651.7" stroke-width="2.1"/>
<line x1="1752.4" y1="645.9" x2="1752.4" y2="651.7" stroke-width="2.1"/>
<line x1="1852.6" y1="645.9" x2="1852.6" y2="651.7" stroke-width="2.1"/>
<polyline fill="none" stroke-width="1.6" points="1735.8,537 1735.8,464 1769.3,464 1769.3,476.3"/>
<text transform="translate(1753.25 462.71) scale(1 1.02)" font-size="23" letter-spacing="1.3" class="s" text-anchor="middle">*</text>
<rect x="1838.4" y="396.9" width="11.9" height="11.9" fill="#231f20" stroke="none"/>
<rect x="1840.3" y="426.1" width="8.1" height="8.1" fill="#fff" stroke-width="3.8"/>
<text transform="translate(1855.9 408) rotate(0.03) scale(1 1.02)" font-size="16" text-anchor="start" class="r">CON</text>
<text transform="translate(1855.9 435.3) rotate(0.03) scale(1 1.02)" font-size="16" text-anchor="start" class="r">ZCT</text>
<text transform="translate(1552.2 670.6) rotate(0.03) scale(1 1.02)" font-size="18.5" class="b" text-anchor="middle">Liver</text>
<text transform="translate(1652.4 670.6) rotate(0.03) scale(1 1.02)" font-size="18.5" class="b" text-anchor="middle">Plasma</text>
<text transform="translate(1752.6 670.6) rotate(0.03) scale(1 1.02)" font-size="18.5" class="b" text-anchor="middle">Ileum</text>
<text transform="translate(1852.8 670.6) rotate(0.03) scale(1 1.02)" font-size="18.5" class="b" text-anchor="middle">Colon</text>
<text transform="translate(1467.2 516.7) rotate(-89.97) scale(1 1.02)" font-size="15.9" class="b" text-anchor="middle">CDCA (%)</text>
</g>
<g id="panelI">
<text transform="translate(998.57 714.6) scale(0.9628 1.0373)" font-size="44" class="L">I</text>
<line x1="1033.8" y1="735.95" x2="1033.8" y2="833.85" stroke-width="2.1"/>
<line x1="1033.8" y1="846.85" x2="1033.8" y2="993.35" stroke-width="2.1"/>
<line x1="1028.15" y1="737" x2="1033.8" y2="737" stroke-width="2.1"/>
<text transform="translate(1026.9 742.1) rotate(0.03) scale(1 1.02)" font-size="15.9" class="b" text-anchor="end">25</text>
<line x1="1028.15" y1="784.9" x2="1033.8" y2="784.9" stroke-width="2.1"/>
<text transform="translate(1026.9 790) rotate(0.03) scale(1 1.02)" font-size="15.9" class="b" text-anchor="end">15</text>
<line x1="1028.15" y1="832.8" x2="1039.5" y2="832.8" stroke-width="2.1"/>
<text transform="translate(1026.9 837.9) rotate(0.03) scale(1 1.02)" font-size="15.9" class="b" text-anchor="end">5</text>
<line x1="1028.15" y1="847.9" x2="1039.5" y2="847.9" stroke-width="2.1"/>
<text transform="translate(1026.9 853) rotate(0.03) scale(1 1.02)" font-size="15.9" class="b" text-anchor="end">1.5</text>
<line x1="1028.15" y1="896.1" x2="1033.8" y2="896.1" stroke-width="2.1"/>
<text transform="translate(1026.9 901.2) rotate(0.03) scale(1 1.02)" font-size="15.9" class="b" text-anchor="end">1.0</text>
<line x1="1028.15" y1="944" x2="1033.8" y2="944" stroke-width="2.1"/>
<text transform="translate(1026.9 949.1) rotate(0.03) scale(1 1.02)" font-size="15.9" class="b" text-anchor="end">0.5</text>
<line x1="1028.15" y1="992.3" x2="1033.8" y2="992.3" stroke-width="2.1"/>
<text transform="translate(1026.9 997.4) rotate(0.03) scale(1 1.02)" font-size="15.9" class="b" text-anchor="end">0.0</text>
<rect x="1045.3" y="987.2" width="30.6" height="5.1" fill="#231f20" stroke="none"/>
<line x1="1060.6" y1="973.8" x2="1060.6" y2="987.2" stroke-width="1.9"/>
<line x1="1053" y1="973.8" x2="1068.2" y2="973.8" stroke-width="1.9"/>
<path stroke="none" d="M1078.7 992.3V971H1109.3V992.3H1105.7V974.85H1082.3V992.3Z"/>
<line x1="1094" y1="958.8" x2="1094" y2="972" stroke-width="1.9"/>
<line x1="1086.4" y1="958.8" x2="1101.6" y2="958.8" stroke-width="1.9"/>
<rect x="1145.5" y="971.5" width="30.6" height="20.8" fill="#231f20" stroke="none"/>
<line x1="1160.8" y1="961.8" x2="1160.8" y2="971.5" stroke-width="1.9"/>
<line x1="1153.2" y1="961.8" x2="1168.4" y2="961.8" stroke-width="1.9"/>
<path stroke="none" d="M1178.9 992.3V903H1209.5V992.3H1205.9V906.85H1182.5V992.3Z"/>
<line x1="1194.2" y1="893.1" x2="1194.2" y2="904" stroke-width="1.9"/>
<line x1="1186.6" y1="893.1" x2="1201.8" y2="893.1" stroke-width="1.9"/>
<rect x="1245.7" y="990.6" width="30.6" height="1.7" fill="#231f20" stroke="none"/>
<line x1="1261" y1="972.2" x2="1261" y2="990.6" stroke-width="1.9"/>
<line x1="1253.4" y1="972.2" x2="1268.6" y2="972.2" stroke-width="1.9"/>
<path stroke="none" d="M1279.1 992.3V930.1H1309.7V992.3H1306.1V933.95H1282.7V992.3Z"/>
<line x1="1294.4" y1="910.5" x2="1294.4" y2="931.1" stroke-width="1.9"/>
<line x1="1286.8" y1="910.5" x2="1302" y2="910.5" stroke-width="1.9"/>
<rect x="1345.9" y="814.4" width="30.6" height="18.8" fill="#231f20" stroke="none"/>
<rect x="1345.9" y="847.5" width="30.6" height="144.8" fill="#231f20" stroke="none"/>
<line x1="1361.2" y1="803.6" x2="1361.2" y2="814.4" stroke-width="1.9"/>
<line x1="1353.6" y1="803.6" x2="1368.8" y2="803.6" stroke-width="1.9"/>
<path stroke="none" d="M1379.3 833.2V754.9H1409.9V833.2H1406.3V758.75H1382.9V833.2Z"/>
<line x1="1381.1" y1="847.5" x2="1381.1" y2="992.3" stroke-width="3.6"/>
<line x1="1408.1" y1="847.5" x2="1408.1" y2="992.3" stroke-width="3.6"/>
<line x1="1394.6" y1="744.7" x2="1394.6" y2="755.9" stroke-width="1.9"/>
<line x1="1387" y1="744.7" x2="1402.2" y2="744.7" stroke-width="1.9"/>
<line x1="1032.75" y1="992.3" x2="1422.3" y2="992.3" stroke-width="2.1"/>
<line x1="1077.1" y1="992.3" x2="1077.1" y2="998.1" stroke-width="2.1"/>
<line x1="1177.3" y1="992.3" x2="1177.3" y2="998.1" stroke-width="2.1"/>
<line x1="1277.5" y1="992.3" x2="1277.5" y2="998.1" stroke-width="2.1"/>
<line x1="1377.7" y1="992.3" x2="1377.7" y2="998.1" stroke-width="2.1"/>
<polyline fill="none" stroke-width="1.6" points="1160.7,955.7 1160.7,875.7 1194.2,875.7 1194.2,886.7"/>
<text transform="translate(1178.15 872.71) scale(1 1.02)" font-size="23" letter-spacing="1.3" class="s" text-anchor="middle">***</text>
<polyline fill="none" stroke-width="1.6" points="1260.9,966.5 1260.9,893.1 1294.4,893.1 1294.4,904.5"/>
<text transform="translate(1278.35 894.11) scale(1 1.02)" font-size="23" letter-spacing="1.3" class="s" text-anchor="middle">*</text>
<polyline fill="none" stroke-width="1.6" points="1361.1,798.3 1361.1,725.6 1394.6,725.6 1394.6,737"/>
<text transform="translate(1378.55 723.21) scale(1 1.02)" font-size="23" letter-spacing="1.3" class="s" text-anchor="middle">***</text>
<rect x="1051.1" y="745" width="11.9" height="11.9" fill="#231f20" stroke="none"/>
<rect x="1053" y="773.8" width="8.1" height="8.1" fill="#fff" stroke-width="3.8"/>
<text transform="translate(1068.6 756.1) rotate(0.03) scale(1 1.02)" font-size="16" text-anchor="start" class="r">CON</text>
<text transform="translate(1068.6 783) rotate(0.03) scale(1 1.02)" font-size="16" text-anchor="start" class="r">ZAC</text>
<text transform="translate(1077.3 1014.1) rotate(0.03) scale(1 1.02)" font-size="16.1" class="b" text-anchor="middle">Liver</text>
<text transform="translate(1177.5 1014.1) rotate(0.03) scale(1 1.02)" font-size="16.1" class="b" text-anchor="middle">Plasma</text>
<text transform="translate(1277.7 1014.1) rotate(0.03) scale(1 1.02)" font-size="16.1" class="b" text-anchor="middle">Ileum</text>
<text transform="translate(1377.9 1014.1) rotate(0.03) scale(1 1.02)" font-size="16.1" class="b" text-anchor="middle">Colon</text>
<text transform="translate(987.3 863.3) rotate(-89.97) scale(1 1.02)" font-size="15.9" class="b" text-anchor="middle">LCA (%)</text>
</g>
<g id="panelJ">
<clipPath id="cj"><path d="M1474.9 678H1490V720H1455V688.2H1474.9Z"/></clipPath>
<g clip-path="url(#cj)"><text transform="translate(1461.23 714.35) scale(1.0049 1.0390)" font-size="44" class="L">J</text></g>
<line x1="1511.6" y1="733.25" x2="1511.6" y2="831.15" stroke-width="2.1"/>
<line x1="1511.6" y1="843.75" x2="1511.6" y2="989.95" stroke-width="2.1"/>
<line x1="1505.95" y1="734.3" x2="1511.6" y2="734.3" stroke-width="2.1"/>
<text transform="translate(1504.7 739.4) rotate(0.03) scale(1 1.02)" font-size="15.9" class="b" text-anchor="end">20</text>
<line x1="1505.95" y1="766.1" x2="1511.6" y2="766.1" stroke-width="2.1"/>
<text transform="translate(1504.7 771.2) rotate(0.03) scale(1 1.02)" font-size="15.9" class="b" text-anchor="end">15</text>
<line x1="1505.95" y1="798.3" x2="1511.6" y2="798.3" stroke-width="2.1"/>
<text transform="translate(1504.7 803.4) rotate(0.03) scale(1 1.02)" font-size="15.9" class="b" text-anchor="end">10</text>
<line x1="1505.95" y1="830.1" x2="1517.3" y2="830.1" stroke-width="2.1"/>
<text transform="translate(1504.7 835.2) rotate(0.03) scale(1 1.02)" font-size="15.9" class="b" text-anchor="end">5</text>
<line x1="1505.95" y1="844.8" x2="1517.3" y2="844.8" stroke-width="2.1"/>
<text transform="translate(1504.7 849.9) rotate(0.03) scale(1 1.02)" font-size="15.9" class="b" text-anchor="end">1.5</text>
<line x1="1505.95" y1="892.8" x2="1511.6" y2="892.8" stroke-width="2.1"/>
<text transform="translate(1504.7 897.9) rotate(0.03) scale(1 1.02)" font-size="15.9" class="b" text-anchor="end">1.0</text>
<line x1="1505.95" y1="940.7" x2="1511.6" y2="940.7" stroke-width="2.1"/>
<text transform="translate(1504.7 945.8) rotate(0.03) scale(1 1.02)" font-size="15.9" class="b" text-anchor="end">0.5</text>
<line x1="1505.95" y1="988.9" x2="1511.6" y2="988.9" stroke-width="2.1"/>
<text transform="translate(1504.7 994) rotate(0.03) scale(1 1.02)" font-size="15.9" class="b" text-anchor="end">0.0</text>
<rect x="1522.9" y="968.1" width="30.6" height="20.8" fill="#231f20" stroke="none"/>
<line x1="1538.2" y1="959.1" x2="1538.2" y2="968.1" stroke-width="1.9"/>
<line x1="1530.6" y1="959.1" x2="1545.8" y2="959.1" stroke-width="1.9"/>
<path stroke="none" d="M1556.3 988.9V926.4H1586.9V988.9H1583.3V930.25H1559.9V988.9Z"/>
<line x1="1571.6" y1="917.5" x2="1571.6" y2="927.4" stroke-width="1.9"/>
<line x1="1564" y1="917.5" x2="1579.2" y2="917.5" stroke-width="1.9"/>
<rect x="1623.1" y="951.7" width="30.6" height="37.2" fill="#231f20" stroke="none"/>
<line x1="1638.4" y1="937" x2="1638.4" y2="951.7" stroke-width="1.9"/>
<line x1="1630.8" y1="937" x2="1646" y2="937" stroke-width="1.9"/>
<path stroke="none" d="M1656.5 988.9V901.3H1687.1V988.9H1683.5V905.15H1660.1V988.9Z"/>
<line x1="1671.8" y1="886.7" x2="1671.8" y2="902.3" stroke-width="1.9"/>
<line x1="1664.2" y1="886.7" x2="1679.4" y2="886.7" stroke-width="1.9"/>
<rect x="1823.5" y="812.7" width="30.6" height="17.8" fill="#231f20" stroke="none"/>
<rect x="1823.5" y="844.4" width="30.6" height="144.5" fill="#231f20" stroke="none"/>
<line x1="1838.8" y1="802.6" x2="1838.8" y2="812.7" stroke-width="1.9"/>
<line x1="1831.2" y1="802.6" x2="1846.4" y2="802.6" stroke-width="1.9"/>
<path stroke="none" d="M1856.9 830.5V769.6H1887.5V830.5H1883.9V773.45H1860.5V830.5Z"/>
<line x1="1858.7" y1="844.4" x2="1858.7" y2="988.9" stroke-width="3.6"/>
<line x1="1885.7" y1="844.4" x2="1885.7" y2="988.9" stroke-width="3.6"/>
<line x1="1872.2" y1="744" x2="1872.2" y2="770.6" stroke-width="1.9"/>
<line x1="1864.6" y1="744" x2="1879.8" y2="744" stroke-width="1.9"/>
<line x1="1510.55" y1="988.9" x2="1899" y2="988.9" stroke-width="2.1"/>
<line x1="1554.7" y1="988.9" x2="1554.7" y2="994.7" stroke-width="2.1"/>
<line x1="1654.9" y1="988.9" x2="1654.9" y2="994.7" stroke-width="2.1"/>
<line x1="1755.1" y1="988.9" x2="1755.1" y2="994.7" stroke-width="2.1"/>
<line x1="1855.3" y1="988.9" x2="1855.3" y2="994.7" stroke-width="2.1"/>
<polyline fill="none" stroke-width="1.6" points="1538.1,953 1538.1,899.1 1571.6,899.1 1571.6,910.2"/>
<text transform="translate(1555.55 895.81) scale(1 1.02)" font-size="23" letter-spacing="1.3" class="s" text-anchor="middle">***</text>
<polyline fill="none" stroke-width="1.6" points="1638.3,931.3 1638.3,869 1671.8,869 1671.8,880"/>
<text transform="translate(1655.75 869.01) scale(1 1.02)" font-size="23" letter-spacing="1.3" class="s" text-anchor="middle">*</text>
<polyline fill="none" stroke-width="1.6" points="1838.7,797.3 1838.7,725.3 1872.2,725.3 1872.2,736.3"/>
<text transform="translate(1856.15 723.21) scale(1 1.02)" font-size="23" letter-spacing="1.3" class="s" text-anchor="middle">***</text>
<rect x="1530.2" y="742.3" width="11.9" height="11.9" fill="#231f20" stroke="none"/>
<rect x="1532.1" y="771.1" width="8.1" height="8.1" fill="#fff" stroke-width="3.8"/>
<text transform="translate(1547.7 753.4) rotate(0.03) scale(1 1.02)" font-size="16" text-anchor="start" class="r">CON</text>
<text transform="translate(1547.7 780.3) rotate(0.03) scale(1 1.02)" font-size="16" text-anchor="start" class="r">ZCT</text>
<text transform="translate(1554.9 1010) rotate(0.03) scale(1 1.02)" font-size="16.1" class="b" text-anchor="middle">Liver</text>
<text transform="translate(1655.1 1010) rotate(0.03) scale(1 1.02)" font-size="16.1" class="b" text-anchor="middle">Plasma</text>
<text transform="translate(1755.3 1010) rotate(0.03) scale(1 1.02)" font-size="16.1" class="b" text-anchor="middle">Ileum</text>
<text transform="translate(1855.5 1010) rotate(0.03) scale(1 1.02)" font-size="16.1" class="b" text-anchor="middle">Colon</text>
<text transform="translate(1465.1 859.4) rotate(-89.97) scale(1 1.02)" font-size="15.9" class="b" text-anchor="middle">LCA (%)</text>
<text transform="translate(1755 977.5) rotate(0.03) scale(1 1.02)" font-size="16.1" class="b" text-anchor="middle">nd</text>
</g>
</svg>
</body>
</html>
